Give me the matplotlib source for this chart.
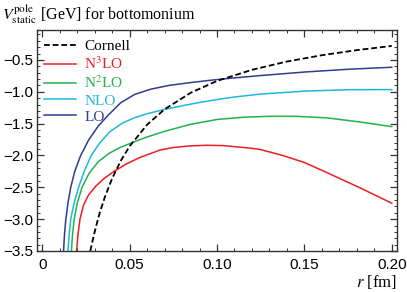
import matplotlib
matplotlib.use("Agg")
import matplotlib.pyplot as plt
from matplotlib.ticker import MultipleLocator, FuncFormatter

# ---- data (r in fm, V in GeV) ----
r_lo = [0.0122, 0.0127, 0.0135, 0.0147, 0.0163, 0.0186, 0.0220, 0.0265, 0.0320, 0.0380,
        0.0450, 0.0530, 0.0620, 0.0725, 0.0850, 0.0960, 0.1060, 0.1250, 0.1500, 0.1760, 0.2000]
v_lo = [-3.50, -3.25, -3.00, -2.75, -2.50, -2.25, -2.00, -1.76, -1.54, -1.36,
        -1.17, -1.04, -0.96, -0.90, -0.855, -0.82, -0.792, -0.745, -0.69, -0.645, -0.615]

r_nlo = [0.0147, 0.0154, 0.0163, 0.0182, 0.0208, 0.0240, 0.0280, 0.0330, 0.0390, 0.0460,
         0.0530, 0.0600, 0.0695, 0.0800, 0.0900, 0.1000, 0.1100, 0.1245, 0.1500, 0.1760, 0.2000]
v_nlo = [-3.50, -3.25, -3.00, -2.75, -2.50, -2.25, -2.00, -1.80, -1.62, -1.49,
         -1.405, -1.345, -1.28, -1.22, -1.168, -1.122, -1.082, -1.037, -0.99, -0.967, -0.966]

r_n2lo = [0.0167, 0.0173, 0.0183, 0.0200, 0.0228, 0.0268, 0.0320, 0.0380, 0.0445, 0.0513,
          0.0600, 0.0695, 0.0850, 0.1000, 0.1150, 0.1300, 0.1450, 0.1630, 0.1820, 0.2000]
v_n2lo = [-3.50, -3.25, -3.00, -2.75, -2.50, -2.28, -2.10, -1.97, -1.875, -1.80,
          -1.71, -1.625, -1.51, -1.435, -1.40, -1.385, -1.385, -1.41, -1.475, -1.547]

r_n3lo = [0.0197, 0.0204, 0.0216, 0.0236, 0.0265, 0.0307, 0.0350, 0.0405, 0.0480, 0.0560,
          0.0674, 0.0750, 0.0845, 0.0940, 0.1036, 0.1190, 0.1245, 0.1370, 0.1500, 0.1630,
          0.1820, 0.2000]
v_n3lo = [-3.50, -3.25, -3.00, -2.78, -2.62, -2.48, -2.37, -2.26, -2.135, -2.03,
          -1.915, -1.875, -1.85, -1.84, -1.845, -1.885, -1.905, -1.995, -2.11, -2.27,
          -2.51, -2.75]

r_corn = [0.0275, 0.0287, 0.0300, 0.0315, 0.0330, 0.0360, 0.0400, 0.0450, 0.0500, 0.0600,
          0.0700, 0.0850, 0.1000, 0.1200, 0.1400, 0.1600, 0.1800, 0.2000]
v_corn = [-3.50, -3.35, -3.20, -3.04, -2.89, -2.64, -2.36, -2.08, -1.855, -1.517,
          -1.275, -1.015, -0.83, -0.655, -0.525, -0.426, -0.346, -0.28]

labels = ["Cornell", r"N$^3$LO", r"N$^2$LO", "NLO", "LO"]
colors = ["black", "#ee1c25", "#22b24c", "#1eb8dc", "#2e3c94"]

xticks = [0, 0.05, 0.10, 0.15, 0.20]
xtick_labels = ["0", "0.05", "0.10", "0.15", "0.20"]
yticks = [-3.5, -3.0, -2.5, -2.0, -1.5, -1.0, -0.5]

plt.rcParams['mathtext.fontset'] = 'stix'

fig = plt.figure(figsize=(4.07, 2.92), dpi=100)
ax = fig.add_axes([37/407, 1 - 251/292, 360/407, 221/292])

series = [(r_corn, v_corn), (r_n3lo, v_n3lo), (r_n2lo, v_n2lo), (r_nlo, v_nlo), (r_lo, v_lo)]
for i, ((rr, vv), lab, col) in enumerate(zip(series, labels, colors)):
    if i == 0:
        ax.plot(rr, vv, color=col, lw=1.3, dashes=(3.2, 1.6), label=lab, zorder=5)
    else:
        ax.plot(rr, vv, color=col, lw=1.1, label=lab, solid_joinstyle='round')

ax.set_xlim(-0.003, 0.203)
ax.set_ylim(-3.5, -0.03)

ax.set_xticks(xticks)
ax.set_xticklabels(xtick_labels)
ax.set_yticks(yticks)
ax.yaxis.set_major_formatter(FuncFormatter(lambda v, p: f"{v:.1f}".replace("-", "\u2212")))
ax.xaxis.set_minor_locator(MultipleLocator(0.01))
ax.yaxis.set_minor_locator(MultipleLocator(0.1))

for lab in ax.get_xticklabels() + ax.get_yticklabels():
    lab.set_family("Liberation Sans")
    lab.set_fontsize(11)

ax.tick_params(which='both', direction='in', top=True, right=True, colors='#333333', labelcolor='black')
ax.tick_params(which='major', length=5, width=0.9)
ax.tick_params(which='minor', length=2.5, width=0.7)
ax.tick_params(axis='x', which='major', pad=5)
ax.tick_params(axis='y', which='major', pad=3)
for s in ax.spines.values():
    s.set_linewidth(1.0)
    s.set_color('#333333')

leg = ax.legend(loc='upper left', bbox_to_anchor=(-0.005, 1.0), frameon=False,
                handlelength=2.1, handletextpad=0.5, labelspacing=0.17,
                borderaxespad=0.2, labelcolor='linecolor',
                prop={'family': 'Liberation Serif', 'size': 11})

fig.text(2/407, 1 - 20/292, r"$V^{\rm pole}_{\rm static}$ [GeV] for bottomonium",
         family='Liberation Serif', fontsize=11.5, va='baseline', ha='left')
ax.set_xlabel(r"$r$ [fm]", family='Liberation Serif', fontsize=12, loc='right', labelpad=1)

fig.savefig("out.png", dpi=100)
